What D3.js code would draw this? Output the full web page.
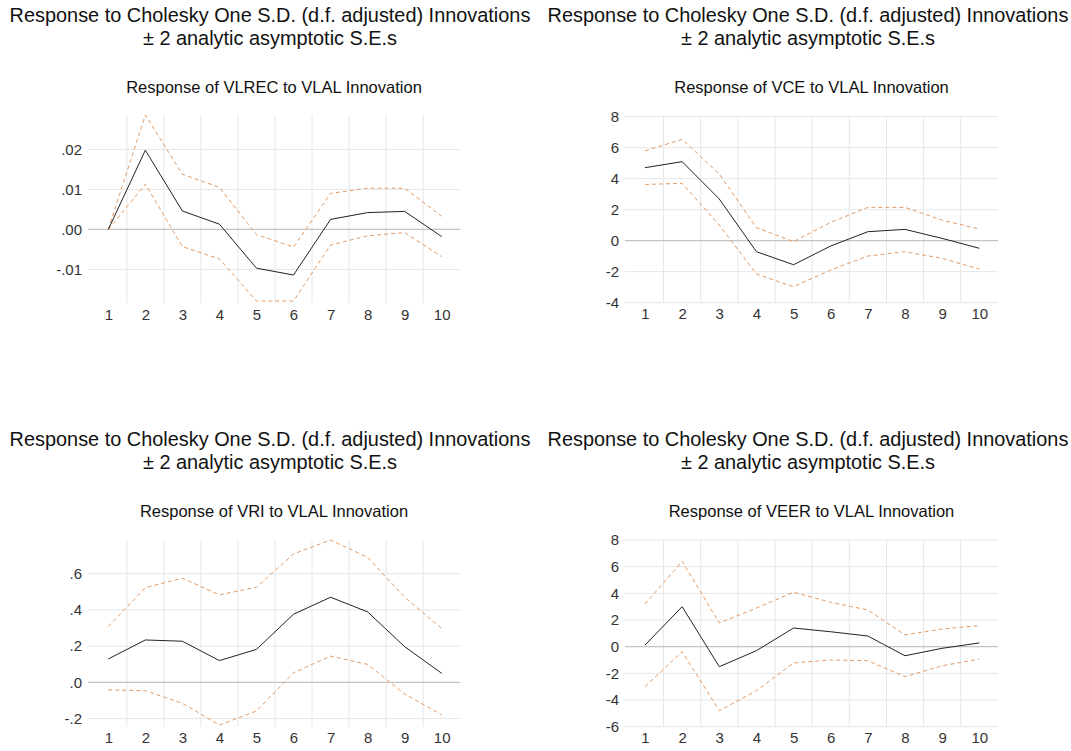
<!DOCTYPE html>
<meta charset="utf-8">
<script src="https://d3js.org/d3.v7.min.js"></script>
<style>
  body { margin: 0; background: #fff; }
  text { font-family: "Liberation Sans", Arial, sans-serif; }
</style>
<svg id="chart" width="1071" height="751"></svg>
<script>
// periods on the x axis
var periods = [1, 2, 3, 4, 5, 6, 7, 8, 9, 10];

// VLREC response to VLAL
var vlrecResp  = [0, 0.0198, 0.0046, 0.0013, -0.0097, -0.0114, 0.0025, 0.0042, 0.0045, -0.0018];
var vlrecUpper = [0, 0.0286, 0.0138, 0.0105, -0.0013, -0.0044, 0.0090, 0.0103, 0.0103, 0.0033];
var vlrecLower = [0, 0.0113, -0.0043, -0.0074, -0.0179, -0.0179, -0.0039, -0.0016, -0.0008, -0.0068];

// VCE response to VLAL
var vceResp  = [4.71, 5.10, 2.69, -0.71, -1.55, -0.34, 0.58, 0.73, 0.15, -0.49];
var vceUpper = [5.80, 6.54, 4.30, 0.84, -0.06, 1.18, 2.15, 2.15, 1.33, 0.75];
var vceLower = [3.63, 3.70, 1.01, -2.15, -2.97, -1.89, -0.99, -0.71, -1.14, -1.83];

// VRI response to VLAL
var vriResp  = [0.129, 0.234, 0.227, 0.120, 0.182, 0.376, 0.470, 0.389, 0.197, 0.050];
var vriUpper = [0.308, 0.523, 0.575, 0.483, 0.525, 0.709, 0.786, 0.690, 0.470, 0.298];
var vriLower = [-0.042, -0.046, -0.116, -0.236, -0.158, 0.053, 0.145, 0.099, -0.064, -0.180];

// VEER response to VLAL
var veerResp  = [0.12, 3.00, -1.50, -0.30, 1.40, 1.12, 0.80, -0.68, -0.12, 0.28];
var veerUpper = [3.20, 6.40, 1.78, 2.90, 4.08, 3.33, 2.75, 0.88, 1.33, 1.58];
var veerLower = [-3.00, -0.38, -4.80, -3.30, -1.22, -1.00, -1.05, -2.25, -1.43, -0.93];

// y tick values
var vlrecTicks = [-0.01, 0, 0.01, 0.02];
var vceTicks = [-4, -2, 0, 2, 4, 6, 8];
var vriTicks = [-0.2, 0, 0.2, 0.4, 0.6];
var veerTicks = [-6, -4, -2, 0, 2, 4, 6, 8];

var mainTitle1 = "Response to Cholesky One S.D. (d.f. adjusted) Innovations";
var mainTitle2 = "\u00b1 2 analytic asymptotic S.E.s";

// eviews style labels: plain hyphen, no leading zero (".02", "-.01")
function evFormat(fmt, strip) {
  var f = d3.format(fmt);
  return function(d) {
    var s = f(d).replace("\u2212", "-");
    return strip ? s.replace(/^(-?)0\./, "$1.") : s;
  };
}

var panels = [
  {title: "Response of VLREC to VLAL Innovation", resp: vlrecResp, upper: vlrecUpper, lower: vlrecLower,
   ticks: vlrecTicks, fmt: evFormat(".2f", true), dom: [-0.0184, 0.0286],
   left: 88, right: 460, top: 115, bottom: 303, x1: 108.3, x10: 441.7, cx: 270, ty: 0},
  {title: "Response of VCE to VLAL Innovation", resp: vceResp, upper: vceUpper, lower: vceLower,
   ticks: vceTicks, fmt: evFormat("d", false), dom: [-4, 8],
   left: 625, right: 998, top: 116.7, bottom: 302.7, x1: 645, x10: 979.3, cx: 808, ty: 0},
  {title: "Response of VRI to VLAL Innovation", resp: vriResp, upper: vriUpper, lower: vriLower,
   ticks: vriTicks, fmt: evFormat(".1f", true), dom: [-0.245, 0.786],
   left: 88, right: 460, top: 540, bottom: 726.7, x1: 108.3, x10: 441.7, cx: 270, ty: 424},
  {title: "Response of VEER to VLAL Innovation", resp: veerResp, upper: veerUpper, lower: veerLower,
   ticks: veerTicks, fmt: evFormat("d", false), dom: [-6, 8],
   left: 625, right: 998, top: 540, bottom: 726.7, x1: 645, x10: 979.3, cx: 808, ty: 424}
];

var svg = d3.select("#chart");

panels.forEach(function(p) {
  var g = svg.append("g");

  // titles
  g.append("text").attr("x", p.cx).attr("y", p.ty + 22)
    .attr("text-anchor", "middle").style("font-size", "19.9px").style("fill", "#111")
    .text(mainTitle1);
  g.append("text").attr("x", p.cx).attr("y", p.ty + 45)
    .attr("text-anchor", "middle").style("font-size", "19.9px").style("fill", "#111")
    .text(mainTitle2);
  g.append("text").attr("x", (p.left + p.right) / 2).attr("y", p.ty + 93)
    .attr("text-anchor", "middle").style("font-size", "16.5px").style("fill", "#111")
    .text(p.title);

  var x = d3.scaleLinear().domain([1, 10]).range([p.x1, p.x10]);
  var y = d3.scaleLinear().domain(p.dom).range([p.bottom, p.top]);

  // vertical gridlines between periods
  g.selectAll(".vgrid")
    .data(periods.slice(0, 9))
    .enter().append("line")
      .attr("x1", function(d) { return x(d + 0.5); })
      .attr("x2", function(d) { return x(d + 0.5); })
      .attr("y1", p.top).attr("y2", p.bottom)
      .attr("stroke", "#e6e6e6").attr("stroke-width", 1);

  // horizontal gridlines
  g.selectAll(".hgrid")
    .data(p.ticks)
    .enter().append("line")
      .attr("x1", p.left).attr("x2", p.right)
      .attr("y1", function(d) { return y(d); })
      .attr("y2", function(d) { return y(d); })
      .attr("stroke", function(d) { return d === 0 ? "#c4c4c4" : "#e6e6e6"; })
      .attr("stroke-width", function(d) { return d === 0 ? 1.3 : 1; });

  // y axis labels
  var yAxis = g.append("g")
    .attr("transform", "translate(" + (p.left - 6) + ",0)")
    .call(d3.axisLeft(y).tickValues(p.ticks).tickFormat(p.fmt).tickSize(0).tickPadding(0));
  yAxis.select(".domain").remove();
  yAxis.selectAll("text").style("font-size", "15px").style("fill", "#333")
    .style("font-family", "'Liberation Sans', Arial, sans-serif");

  // x axis labels
  var xAxis = g.append("g")
    .attr("transform", "translate(0," + (p.bottom + 6) + ")")
    .call(d3.axisBottom(x).tickValues(periods).tickFormat(d3.format("d")).tickSize(0).tickPadding(0));
  xAxis.select(".domain").remove();
  xAxis.selectAll("text").style("font-size", "15px").style("fill", "#333")
    .style("font-family", "'Liberation Sans', Arial, sans-serif");

  var line = d3.line()
    .x(function(d, i) { return x(periods[i]); })
    .y(function(d) { return y(d); });

  // confidence bands
  [p.upper, p.lower].forEach(function(band) {
    g.append("path").datum(band)
      .attr("d", line)
      .attr("fill", "none")
      .attr("stroke", "#e39a64")
      .attr("stroke-width", 1)
      .attr("stroke-dasharray", "4,3");
  });

  // response
  g.append("path").datum(p.resp)
    .attr("d", line)
    .attr("fill", "none")
    .attr("stroke", "#222")
    .attr("stroke-width", 1);
});
</script>
